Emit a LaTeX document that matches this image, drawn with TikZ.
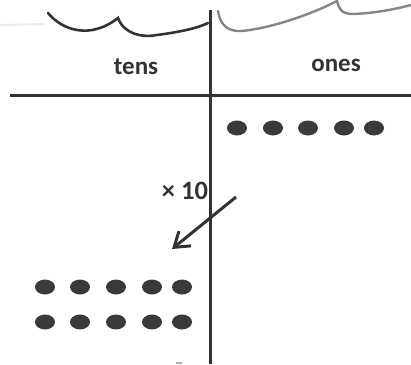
\documentclass[tikz,border=0pt]{standalone}
\usepackage{fontspec}
\usepackage{tikz}
\usepackage{xcolor}
\usetikzlibrary{arrows.meta}
\setmainfont{Carlito}
\definecolor{ink}{HTML}{333333}
\definecolor{dot}{HTML}{3A3A3A}
\definecolor{pencil}{HTML}{858585}

\begin{document}
\begin{tikzpicture}[x=1pt,y=-1pt,every node/.style={font=\fontsize{25}{28}\selectfont\bfseries,text=ink}]
      \useasboundingbox (0,0) rectangle (411,364);
      \coordinate (top) at (210,10); \coordinate (bot) at (210,364);
      \coordinate (left) at (10,95); \coordinate (right) at (411,95);
      \draw[ink,line width=3pt] (top)--(bot);
      \draw[ink,line width=3pt] (left)--(right);
      \draw[ink,line width=2.6pt,line cap=round] (48,13) .. controls (62,30) and (90,40) .. (118,18)
        .. controls (124,34) and (142,38) .. (157,35) .. controls (180,32) and (198,28) .. (208,23);
      \draw[pencil,line width=2.4pt,line cap=round] (218,11) .. controls (220,25) and (228,32) .. (242,31)
        .. controls (272,28) and (312,14) .. (337,1) .. controls (339,10) and (342,14) .. (354,14)
        .. controls (376,13) and (396,9) .. (411,5);
      \draw[gray!15,line width=2pt] (0,25)--(45,24);
      \draw[gray!60,line width=1.5pt] (176,363)--(182,363);
      \node (tens) at (136,67) {tens};
      \node (ones) at (336,65) {ones};
      \node[font=\fontsize{26.5}{30}\selectfont\bfseries] (times) at (185,191) {× 10};
      \coordinate (from) at (236,197); \coordinate (to) at (172,249);
      \draw[ink,line width=3pt,-{Straight Barb[length=14pt,width=19pt]}] (from)--(to);
      \foreach \x in {237,273,308,344,374}
        \fill[dot] (\x,128) ellipse [x radius=10pt,y radius=7.5pt];
      \foreach \x in {45,80,116,152,182} \foreach \y in {287,322}
        \fill[dot] (\x,\y) ellipse [x radius=10pt,y radius=7.5pt];
    \end{tikzpicture}
\end{document}
